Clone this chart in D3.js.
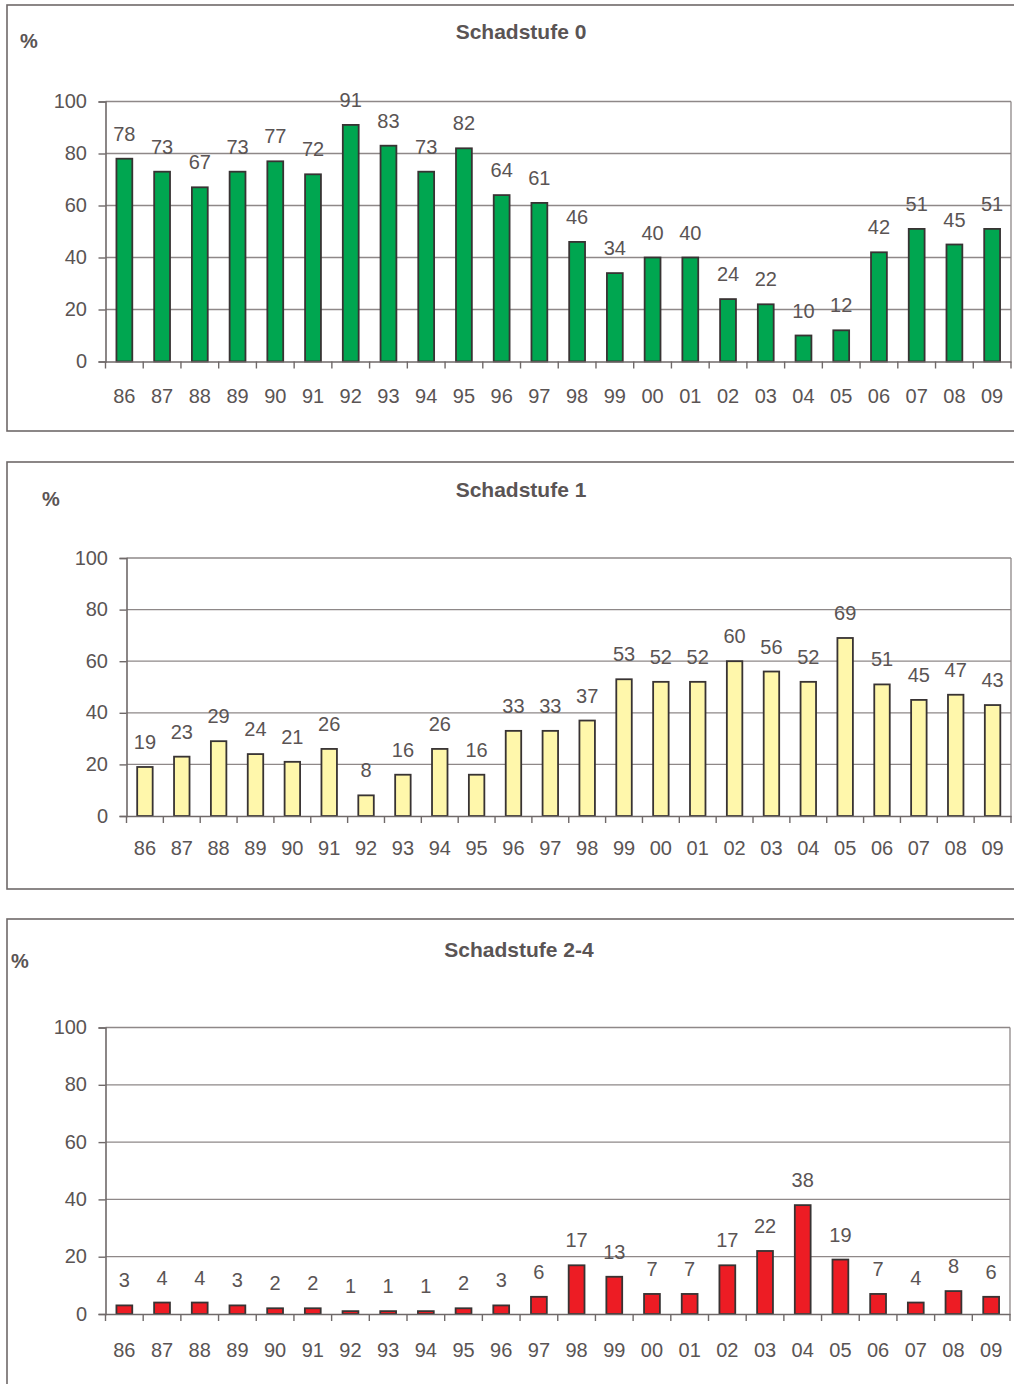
<!DOCTYPE html>
<html>
<head>
<meta charset="utf-8">
<script src="https://cdn.jsdelivr.net/npm/d3@7"></script>
<style>
  html, body { margin: 0; padding: 0; background: #fff; }
  svg { display: block; font-family: "Liberation Sans", Arial, sans-serif; }
</style>
</head>
<body>
<svg id="chart" width="1014" height="1384"></svg>
<script>
// Years of the survey (two-digit labels)
const years = ["86","87","88","89","90","91","92","93","94","95","96","97",
               "98","99","00","01","02","03","04","05","06","07","08","09"];

// Share of trees per damage class, in percent
const stufe0 = [78,73,67,73,77,72,91,83,73,82,64,61,46,34,40,40,24,22,10,12,42,51,45,51];
const stufe1 = [19,23,29,24,21,26,8,16,26,16,33,33,37,53,52,52,60,56,52,69,51,45,47,43];
const stufe24 = [3,4,4,3,2,2,1,1,1,2,3,6,17,13,7,7,17,22,38,19,7,4,8,6];

const titles = ["Schadstufe 0", "Schadstufe 1", "Schadstufe 2-4"];
const yTicks = [0, 20, 40, 60, 80, 100];

const textColor = "#5a5454";
const svg = d3.select("#chart");

// Layout of each panel: frame, plot area, label anchors
const panels = [
  { values: stufe0, title: titles[0], fill: "#00a650",
    frame: [7, 5, 426], left: 105.5, right: 1011, top: 101.5, bottom: 361.5,
    titleX: 521, titleY: 39, pctX: 20, pctY: 48, yLabelX: 87, xLabelY: 403 },
  { values: stufe1, title: titles[1], fill: "#fff7ab",
    frame: [7, 462, 427], left: 126.5, right: 1011, top: 558, bottom: 816,
    titleX: 521, titleY: 497, pctX: 42, pctY: 506, yLabelX: 108, xLabelY: 855 },
  { values: stufe24, title: titles[2], fill: "#ed1c24",
    frame: [7, 919, 480], left: 105.5, right: 1010, top: 1027.5, bottom: 1314,
    titleX: 519, titleY: 957, pctX: 11, pctY: 968, yLabelX: 87, xLabelY: 1357 }
];

panels.forEach(p => {
  const g = svg.append("g");

  // outer frame (runs past the right edge of the page)
  g.append("rect")
    .attr("x", p.frame[0]).attr("y", p.frame[1])
    .attr("width", 1060).attr("height", p.frame[2])
    .attr("fill", "none").attr("stroke", "#6f6969").attr("stroke-width", 1.6);

  const x = d3.scaleBand().domain(years).range([p.left, p.right])
    .paddingInner(0.58).paddingOuter(0.29);
  const xTickScale = d3.scaleBand().domain(years).range([p.left, p.right]);
  const y = d3.scaleLinear().domain([0, 100]).range([p.bottom, p.top]);

  // horizontal gridlines
  g.append("g").selectAll("line").data(yTicks.filter(t => t > 0)).join("line")
    .attr("x1", p.left).attr("x2", p.right)
    .attr("y1", d => y(d)).attr("y2", d => y(d))
    .attr("stroke", "#8e8888").attr("stroke-width", 1.3);

  // right border of plot area
  g.append("line")
    .attr("x1", p.right).attr("x2", p.right)
    .attr("y1", p.top).attr("y2", p.bottom)
    .attr("stroke", "#8e8888").attr("stroke-width", 1.3);

  // bars
  g.append("g").selectAll("rect").data(p.values).join("rect")
    .attr("x", (d, i) => x(years[i]))
    .attr("y", d => y(d))
    .attr("width", x.bandwidth())
    .attr("height", d => y(0) - y(d))
    .attr("fill", p.fill)
    .attr("stroke", "#383333").attr("stroke-width", 1.8);

  // value labels
  g.append("g").selectAll("text").data(p.values).join("text")
    .attr("x", (d, i) => x(years[i]) + x.bandwidth() / 2)
    .attr("y", d => y(d) - 18)
    .attr("text-anchor", "middle")
    .attr("font-size", 20).attr("fill", textColor)
    .text(d => d);

  // y axis
  const yAxis = g.append("g")
    .attr("transform", `translate(${p.left},0)`)
    .call(d3.axisLeft(y).tickValues(yTicks).tickSize(7).tickPadding(0).tickFormat(d3.format("d")));
  yAxis.select(".domain").attr("stroke", "#6f6969").attr("stroke-width", 1.6);
  yAxis.selectAll(".tick line").attr("stroke", "#6f6969").attr("stroke-width", 1.4);
  yAxis.selectAll(".tick text")
    .attr("x", p.yLabelX - p.left).attr("dy", 6)
    .attr("font-size", 20).attr("fill", textColor)
    .attr("font-family", "Liberation Sans, Arial, sans-serif");

  // x axis: ticks at category boundaries, labels centred in each category
  const xAxis = g.append("g")
    .attr("transform", `translate(0,${p.bottom})`)
    .call(d3.axisBottom(xTickScale).tickSize(0).tickFormat(""));
  xAxis.select(".domain").attr("stroke", "#6f6969").attr("stroke-width", 1.6);
  xAxis.selectAll(".tick").remove();
  const bounds = years.map(yr => xTickScale(yr)).concat([p.right]);
  g.append("g").selectAll("line").data(bounds).join("line")
    .attr("x1", d => d).attr("x2", d => d)
    .attr("y1", p.bottom).attr("y2", p.bottom + 7)
    .attr("stroke", "#6f6969").attr("stroke-width", 1.4);
  g.append("g").selectAll("text").data(years).join("text")
    .attr("x", d => xTickScale(d) + xTickScale.bandwidth() / 2)
    .attr("y", p.xLabelY)
    .attr("text-anchor", "middle")
    .attr("font-size", 20).attr("fill", textColor)
    .text(d => d);

  // title and unit
  g.append("text")
    .attr("x", p.titleX).attr("y", p.titleY)
    .attr("text-anchor", "middle")
    .attr("font-size", 21).attr("font-weight", "bold").attr("fill", textColor)
    .text(p.title);
  g.append("text")
    .attr("x", p.pctX).attr("y", p.pctY)
    .attr("font-size", 20).attr("font-weight", "bold").attr("fill", textColor)
    .text("%");
});
</script>
</body>
</html>
